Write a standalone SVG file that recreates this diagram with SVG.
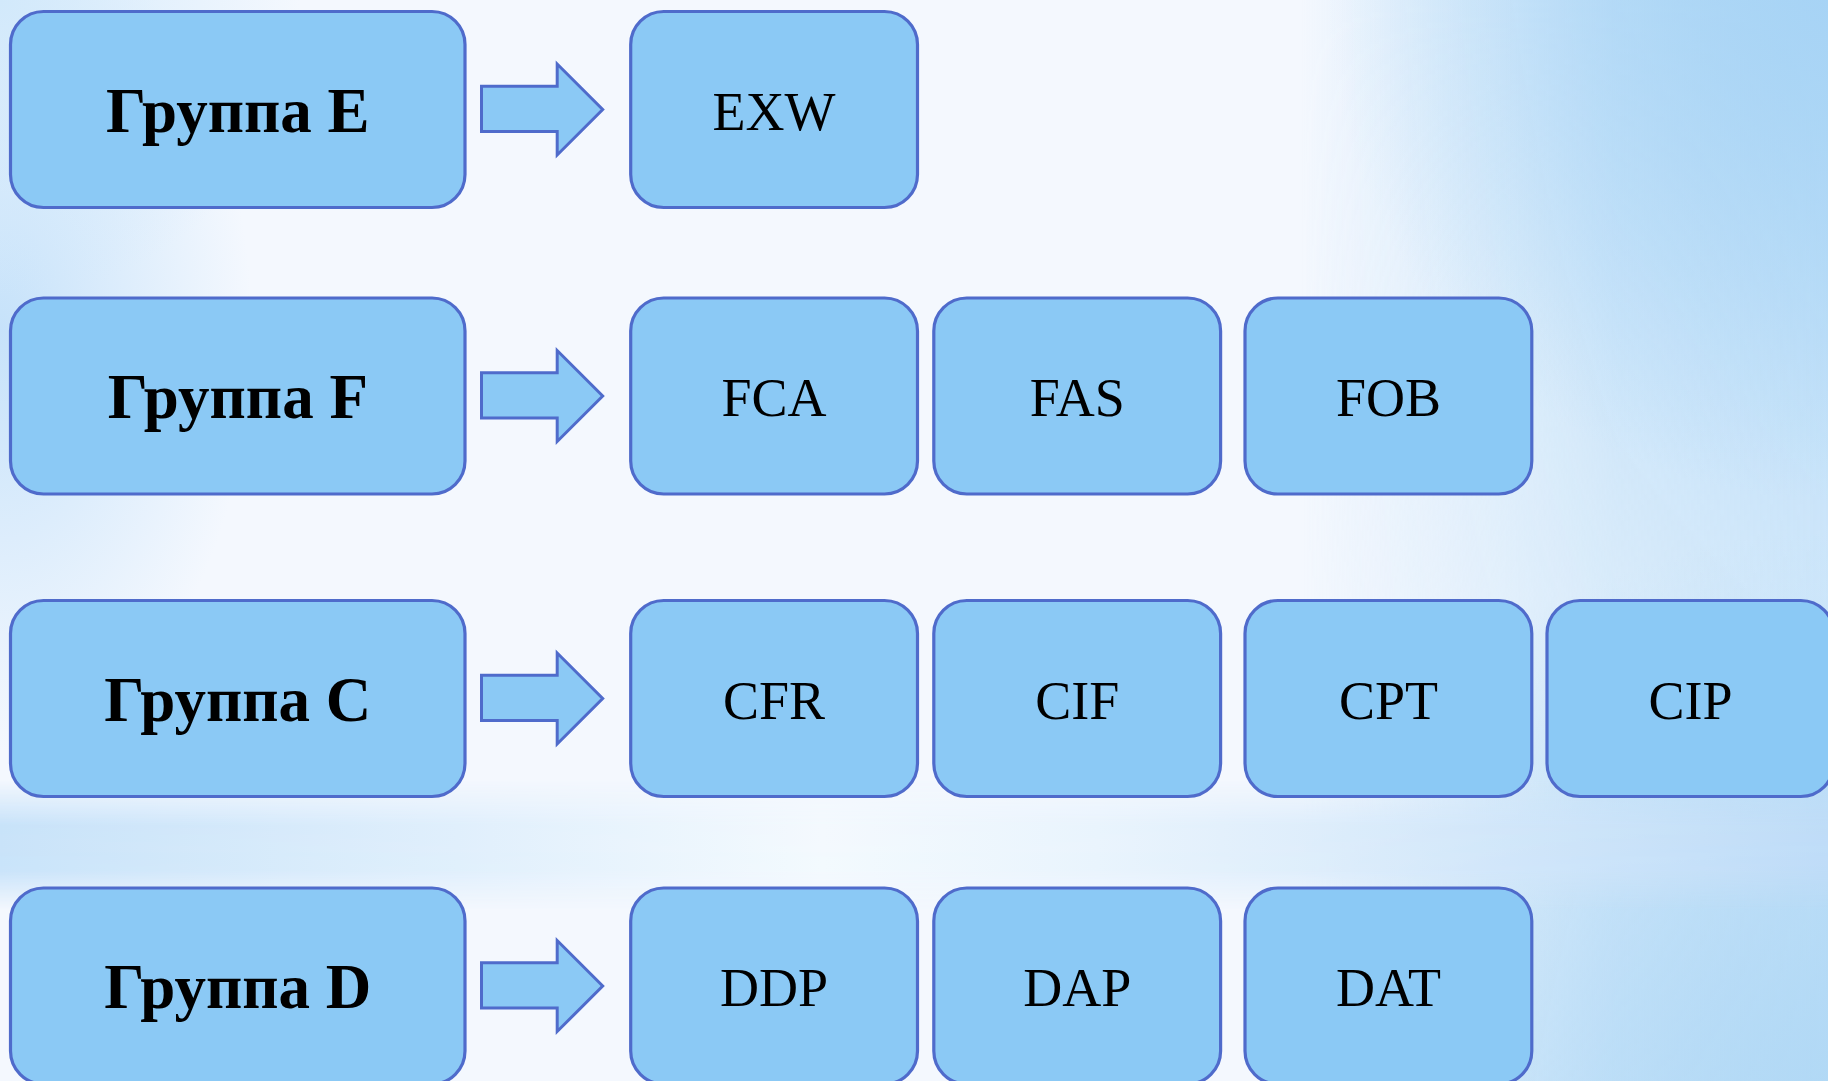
<svg xmlns="http://www.w3.org/2000/svg" width="1828" height="1081" viewBox="0 0 1828 1081">
<defs>
<style>
.box{fill:#8bc9f5;stroke:#4f6bcb;stroke-width:3.2}
.arrow{fill:#8bc9f5;stroke:#4f6bcb;stroke-width:3;stroke-linejoin:miter}
.grp{font-family:"Liberation Serif","Times New Roman",serif;font-weight:bold;font-size:63px;fill:#000;text-anchor:middle}
.lbl{font-family:"Liberation Serif","Times New Roman",serif;font-size:54px;fill:#000;text-anchor:middle}
</style>
<linearGradient id="gRight" x1="0" y1="0" x2="1" y2="0">
<stop offset="0" stop-color="#b0d8f6" stop-opacity="0"/>
<stop offset="0.6" stop-color="#b0d8f6" stop-opacity="0.75"/>
<stop offset="1" stop-color="#b0d8f6" stop-opacity="1"/>
</linearGradient>
<linearGradient id="gRightMaskV" x1="0" y1="0" x2="0" y2="1">
<stop offset="0" stop-color="#fff" stop-opacity="1"/>
<stop offset="0.55" stop-color="#fff" stop-opacity="0.55"/>
<stop offset="1" stop-color="#fff" stop-opacity="0.9"/>
</linearGradient>
<mask id="mRight" maskUnits="userSpaceOnUse" x="0" y="0" width="1828" height="1081">
<rect x="0" y="0" width="1828" height="1081" fill="url(#gRightMaskV)"/>
</mask>
<radialGradient id="gTR" cx="1828" cy="0" r="500" gradientUnits="userSpaceOnUse">
<stop offset="0" stop-color="#a6d3f5" stop-opacity="0.9"/>
<stop offset="1" stop-color="#a6d3f5" stop-opacity="0"/>
</radialGradient>
<radialGradient id="gBR" cx="1828" cy="1081" r="550" gradientUnits="userSpaceOnUse">
<stop offset="0" stop-color="#b0d8f5" stop-opacity="0.8"/>
<stop offset="1" stop-color="#b0d8f5" stop-opacity="0"/>
</radialGradient>
<radialGradient id="gLeft" cx="0" cy="300" r="1" gradientUnits="objectBoundingBox" gradientTransform="translate(0,0)">
<stop offset="0" stop-color="#c8e3fa" stop-opacity="1"/>
<stop offset="1" stop-color="#c8e3fa" stop-opacity="0"/>
</radialGradient>
<radialGradient id="gL" cx="0" cy="330" r="420" gradientUnits="userSpaceOnUse" gradientTransform="translate(0,330) scale(0.6,1) translate(0,-330)">
<stop offset="0" stop-color="#c6e2fa" stop-opacity="1"/>
<stop offset="1" stop-color="#c6e2fa" stop-opacity="0"/>
</radialGradient>
<radialGradient id="gTL" cx="0" cy="0" r="300" gradientUnits="userSpaceOnUse">
<stop offset="0" stop-color="#d2e9fb" stop-opacity="1"/>
<stop offset="1" stop-color="#d2e9fb" stop-opacity="0"/>
</radialGradient>
<linearGradient id="gBandH" x1="0" y1="0" x2="1" y2="0">
<stop offset="0" stop-color="#c5e1f9"/>
<stop offset="0.25" stop-color="#deeefc"/>
<stop offset="0.45" stop-color="#f3f9fe"/>
<stop offset="0.6" stop-color="#e8f3fd"/>
<stop offset="1" stop-color="#bfdcf7"/>
</linearGradient>
<linearGradient id="gBandV" x1="0" y1="0" x2="0" y2="1">
<stop offset="0" stop-color="#fff" stop-opacity="0"/>
<stop offset="0.35" stop-color="#fff" stop-opacity="0.95"/>
<stop offset="0.7" stop-color="#fff" stop-opacity="0.9"/>
<stop offset="1" stop-color="#fff" stop-opacity="0"/>
</linearGradient>
<mask id="mBand" maskUnits="userSpaceOnUse" x="0" y="780" width="1828" height="130">
<rect x="0" y="780" width="1828" height="130" fill="url(#gBandV)"/>
</mask>
<polygon id="arr" class="arrow" points="481.5,-23.3 557.2,-23.3 557.2,-45.5 602.7,0 557.2,45.5 557.2,22.1 481.5,22.1"/>
</defs>

<g id="background">
<rect x="0" y="0" width="1828" height="1081" fill="#f4f8fe"/>
<rect x="1300" y="0" width="528" height="1081" fill="url(#gRight)" mask="url(#mRight)"/>
<rect x="0" y="0" width="1828" height="1081" fill="url(#gTR)"/>
<rect x="0" y="0" width="1828" height="1081" fill="url(#gBR)"/>
<rect x="0" y="0" width="1828" height="1081" fill="url(#gL)"/>
<rect x="0" y="0" width="1828" height="1081" fill="url(#gTL)"/>
<rect x="0" y="780" width="1828" height="130" fill="url(#gBandH)" mask="url(#mBand)"/>
</g>

<g id="connectors">
<use href="#arr" transform="translate(0,109.5)"/>
<use href="#arr" transform="translate(0,396)"/>
<use href="#arr" transform="translate(0,698.5)"/>
<use href="#arr" transform="translate(0,986)"/>
</g>

<g id="groupE"><rect class="box" x="10.5" y="11.5" width="454.5" height="196" rx="33"/><text class="grp" x="237.8" y="131.5">Группа E</text></g>
<g id="EXW"><rect class="box" x="630.7" y="11.5" width="286.8" height="196" rx="33"/><text class="lbl" x="774" y="129.5">EXW</text></g>

<g id="groupF"><rect class="box" x="10.5" y="298" width="454.5" height="196" rx="33"/><text class="grp" x="237.8" y="418">Группа F</text></g>
<g id="FCA"><rect class="box" x="630.7" y="298" width="286.8" height="196" rx="33"/><text class="lbl" x="774" y="416">FCA</text></g>
<g id="FAS"><rect class="box" x="933.8" y="298" width="286.8" height="196" rx="33"/><text class="lbl" x="1077.2" y="416">FAS</text></g>
<g id="FOB"><rect class="box" x="1245" y="298" width="286.8" height="196" rx="33"/><text class="lbl" x="1388.4" y="416">FOB</text></g>

<g id="groupC"><rect class="box" x="10.5" y="600.5" width="454.5" height="196" rx="33"/><text class="grp" x="237.8" y="720.5">Группа C</text></g>
<g id="CFR"><rect class="box" x="630.7" y="600.5" width="286.8" height="196" rx="33"/><text class="lbl" x="774" y="718.5">CFR</text></g>
<g id="CIF"><rect class="box" x="933.8" y="600.5" width="286.8" height="196" rx="33"/><text class="lbl" x="1077.2" y="718.5">CIF</text></g>
<g id="CPT"><rect class="box" x="1245" y="600.5" width="286.8" height="196" rx="33"/><text class="lbl" x="1388.4" y="718.5">CPT</text></g>
<g id="CIP"><rect class="box" x="1547" y="600.5" width="286.8" height="196" rx="33"/><text class="lbl" x="1690.4" y="718.5">CIP</text></g>

<g id="groupD"><rect class="box" x="10.5" y="888" width="454.5" height="196" rx="33"/><text class="grp" x="237.8" y="1008">Группа D</text></g>
<g id="DDP"><rect class="box" x="630.7" y="888" width="286.8" height="196" rx="33"/><text class="lbl" x="774" y="1006">DDP</text></g>
<g id="DAP"><rect class="box" x="933.8" y="888" width="286.8" height="196" rx="33"/><text class="lbl" x="1077.2" y="1006">DAP</text></g>
<g id="DAT"><rect class="box" x="1245" y="888" width="286.8" height="196" rx="33"/><text class="lbl" x="1388.4" y="1006">DAT</text></g>
</svg>
